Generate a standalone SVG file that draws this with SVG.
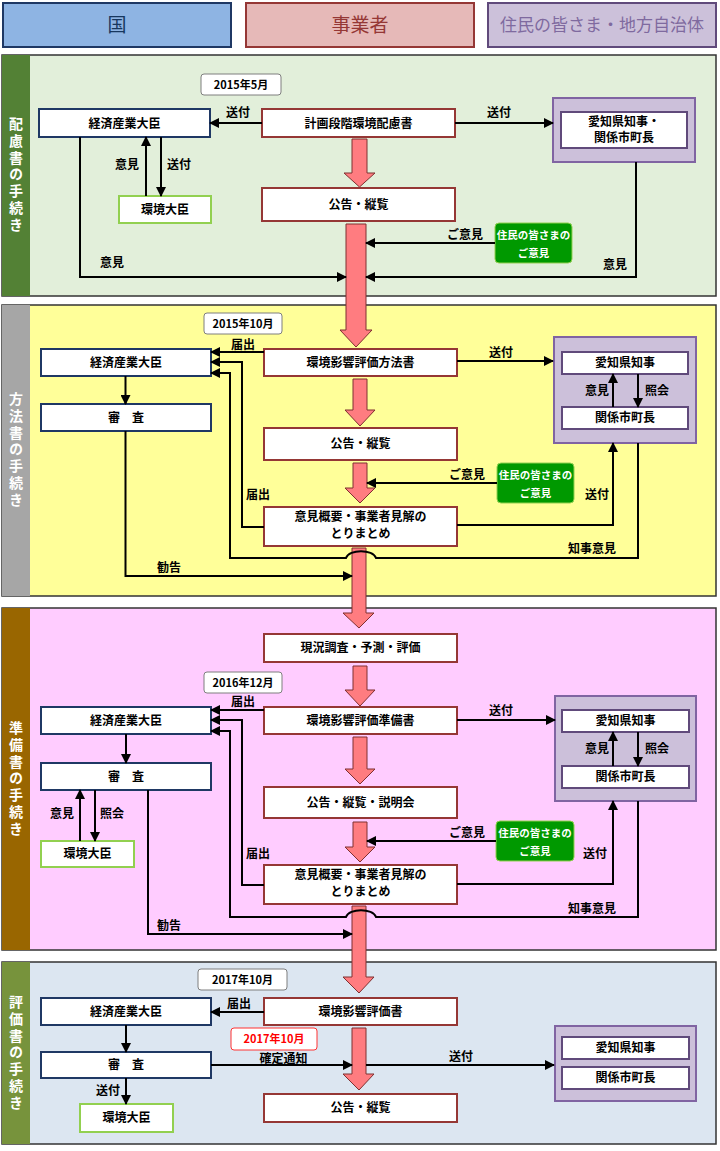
<svg xmlns="http://www.w3.org/2000/svg" width="720" height="1151" viewBox="0 0 720 1151">
<defs>
<style>
.t{font-family:"Noto Sans CJK JP","Noto Sans CJK SC",sans-serif;font-size:12px;font-weight:bold;text-anchor:middle;fill:#000}
.d{font-family:"Noto Sans CJK JP",sans-serif;font-size:11px;font-weight:bold;text-anchor:middle;fill:#000}
.g{font-family:"Noto Sans CJK JP",sans-serif;font-size:10.5px;font-weight:bold;text-anchor:middle;fill:#fff}
.v{font-family:"Noto Sans CJK JP",sans-serif;font-size:14px;font-weight:bold;fill:#fff;writing-mode:vertical-rl;letter-spacing:2.7px}
.h{font-family:"Noto Sans CJK JP",sans-serif;font-size:19px;text-anchor:middle}
.sec{stroke:#333;stroke-width:1.5}
.kuni{fill:#fff;stroke:#1f3864;stroke-width:2}
.jig{fill:#fff;stroke:#953735;stroke-width:2}
.env{fill:#fff;stroke:#92d050;stroke-width:2}
.po{fill:#ccc0da;stroke:#8064a2;stroke-width:2}
.pi{fill:#fff;stroke:#604a7b;stroke-width:2}
.date{fill:#fff;stroke:#7f7f7f;stroke-width:1}
.grn{fill:#009900;stroke:#92d050;stroke-width:1}
.big{fill:#ff7c80;stroke:#7f3030;stroke-width:1}
.ar{fill:none;stroke:#000;stroke-width:2;marker-end:url(#ah)}
</style>
<marker id="ah" markerUnits="userSpaceOnUse" markerWidth="10" markerHeight="10" refX="9" refY="5" orient="auto">
<path d="M0,0 L10,5 L0,10 z" fill="#000"/>
</marker>
</defs>

<!-- header -->
<g id="header-kuni"><rect x="3" y="3" width="228" height="44" fill="#8eb4e3" stroke="#1f3864" stroke-width="2"/><text class="h" x="117" y="32" fill="#17375e">国</text></g>
<g id="header-jigyosha"><rect x="246" y="3" width="228" height="44" fill="#e6b9b8" stroke="#953735" stroke-width="2"/><text class="h" x="360" y="32" fill="#953735">事業者</text></g>
<g id="header-jumin"><rect x="488" y="3" width="228" height="44" fill="#ccc1da" stroke="#604a7b" stroke-width="2"/><text class="h" x="602" y="31" fill="#7f6a9f" style="font-size:17px">住民の皆さま・地方自治体</text></g>

<!-- sections -->
<g id="sec1"><rect class="sec" x="2" y="55" width="714" height="241" fill="#e2efda"/><rect x="2" y="55" width="28" height="241" fill="#538135"/>
<text class="v" x="16" y="117">配慮書の手続き</text></g>
<g id="sec2"><rect class="sec" x="2" y="305" width="714" height="291" fill="#ffff99"/><rect x="2" y="305" width="28" height="291" fill="#a6a6a6"/>
<text class="v" x="16" y="392">方法書の手続き</text></g>
<g id="sec3"><rect class="sec" x="2" y="608" width="714" height="342" fill="#ffccff"/><rect x="2" y="608" width="28" height="342" fill="#996600"/>
<text class="v" x="16" y="721">準備書の手続き</text></g>
<g id="sec4"><rect class="sec" x="2" y="962" width="714" height="182" fill="#dce6f1"/><rect x="2" y="962" width="28" height="182" fill="#77933c"/>
<text class="v" x="16" y="995">評価書の手続き</text></g>

<!-- section 1 nodes -->
<g id="date1"><rect class="date" x="201" y="74" width="80" height="21" rx="3"/><text class="d" x="241" y="89">2015年5月</text></g>
<g id="meti1"><rect class="kuni" x="39" y="109" width="171" height="28"/><text class="t" x="124.5" y="127.5">経済産業大臣</text></g>
<g id="hairyo"><rect class="jig" x="262" y="109" width="193" height="28"/><text class="t" x="358.5" y="127.5">計画段階環境配慮書</text></g>
<g id="pref1"><rect class="po" x="553" y="98" width="142" height="64"/><rect class="pi" x="561" y="112" width="126" height="36"/><text class="t" x="624" y="126">愛知県知事・</text><text class="t" x="624" y="142">関係市町長</text></g>
<g id="moe1"><rect class="env" x="119" y="196" width="92" height="27"/><text class="t" x="165" y="214">環境大臣</text></g>
<g id="koukoku1"><rect class="jig" x="262" y="188" width="193" height="33"/><text class="t" x="358.5" y="209">公告・縦覧</text></g>
<g id="jumin1"><rect class="grn" x="495" y="223" width="77" height="40" rx="4"/><text class="g" x="533.5" y="239">住民の皆さまの</text><text class="g" x="533.5" y="257">ご意見</text></g>

<!-- section 2 nodes -->
<g id="date2"><rect class="date" x="204" y="313" width="78" height="21" rx="3"/><text class="d" x="243" y="328">2015年10月</text></g>
<g id="meti2"><rect class="kuni" x="41" y="349" width="170" height="27"/><text class="t" x="126" y="367">経済産業大臣</text></g>
<g id="houhou"><rect class="jig" x="264" y="349" width="193" height="27"/><text class="t" x="360.5" y="367">環境影響評価方法書</text></g>
<g id="pref2"><rect class="po" x="554" y="337" width="142" height="106"/><rect class="pi" x="562" y="352" width="126" height="22"/><text class="t" x="625" y="367">愛知県知事</text><rect class="pi" x="562" y="407" width="126" height="22"/><text class="t" x="625" y="422">関係市町長</text></g>
<g id="shinsa2"><rect class="kuni" x="41" y="404" width="170" height="27"/><text class="t" x="126" y="422">審　査</text></g>
<g id="koukoku2"><rect class="jig" x="264" y="428" width="193" height="32"/><text class="t" x="360.5" y="448">公告・縦覧</text></g>
<g id="jumin2"><rect class="grn" x="497" y="463" width="77" height="40" rx="4"/><text class="g" x="535.5" y="479">住民の皆さまの</text><text class="g" x="535.5" y="497">ご意見</text></g>
<g id="matome2"><rect class="jig" x="264" y="507" width="193" height="39"/><text class="t" x="360.5" y="521">意見概要・事業者見解の</text><text class="t" x="360.5" y="538">とりまとめ</text></g>

<!-- section 3 nodes -->
<g id="genkyo"><rect class="jig" x="264" y="634" width="193" height="28"/><text class="t" x="360.5" y="652">現況調査・予測・評価</text></g>
<g id="date3"><rect class="date" x="204" y="672" width="78" height="21" rx="3"/><text class="d" x="243" y="687">2016年12月</text></g>
<g id="meti3"><rect class="kuni" x="41" y="707" width="170" height="27"/><text class="t" x="126" y="725">経済産業大臣</text></g>
<g id="junbi"><rect class="jig" x="264" y="707" width="193" height="27"/><text class="t" x="360.5" y="725">環境影響評価準備書</text></g>
<g id="pref3"><rect class="po" x="555" y="696" width="141" height="105"/><rect class="pi" x="562" y="710" width="127" height="22"/><text class="t" x="625.5" y="725">愛知県知事</text><rect class="pi" x="562" y="766" width="127" height="22"/><text class="t" x="625.5" y="781">関係市町長</text></g>
<g id="shinsa3"><rect class="kuni" x="41" y="763" width="170" height="27"/><text class="t" x="126" y="781">審　査</text></g>
<g id="moe3"><rect class="env" x="41" y="841" width="93" height="26"/><text class="t" x="87.5" y="858">環境大臣</text></g>
<g id="koukoku3"><rect class="jig" x="264" y="787" width="193" height="31"/><text class="t" x="360.5" y="807">公告・縦覧・説明会</text></g>
<g id="jumin3"><rect class="grn" x="496" y="821" width="78" height="40" rx="4"/><text class="g" x="535" y="837">住民の皆さまの</text><text class="g" x="535" y="855">ご意見</text></g>
<g id="matome3"><rect class="jig" x="264" y="865" width="193" height="39"/><text class="t" x="360.5" y="879">意見概要・事業者見解の</text><text class="t" x="360.5" y="896">とりまとめ</text></g>

<!-- section 4 nodes -->
<g id="date4"><rect class="date" x="198" y="969" width="89" height="21" rx="3"/><text class="d" x="242.5" y="984">2017年10月</text></g>
<g id="meti4"><rect class="kuni" x="41" y="998" width="170" height="27"/><text class="t" x="126" y="1016">経済産業大臣</text></g>
<g id="hyouka"><rect class="jig" x="264" y="998" width="193" height="27"/><text class="t" x="360.5" y="1016">環境影響評価書</text></g>
<g id="date5"><rect x="231" y="1028" width="86" height="22" rx="3" fill="#fff" stroke="#ff3333" stroke-width="1"/><text class="d" x="274" y="1043" style="fill:#ff0000">2017年10月</text></g>
<g id="shinsa4"><rect class="kuni" x="41" y="1052" width="170" height="26"/><text class="t" x="126" y="1069">審　査</text></g>
<g id="koukoku4"><rect class="jig" x="264" y="1094" width="193" height="28"/><text class="t" x="360.5" y="1112">公告・縦覧</text></g>
<g id="pref4"><rect class="po" x="555" y="1026" width="141" height="75"/><rect class="pi" x="562" y="1037" width="127" height="22"/><text class="t" x="625.5" y="1052">愛知県知事</text><rect class="pi" x="562" y="1067" width="127" height="22"/><text class="t" x="625.5" y="1082">関係市町長</text></g>
<g id="moe4"><rect class="env" x="80" y="1104" width="93" height="28"/><text class="t" x="126.5" y="1122">環境大臣</text></g>

<!-- connectors -->
<g id="connectors">
<polygon class="big" points="352,139 367,139 367,173 375,173 359.5,187 344,173 352,173"/>
<polygon class="big" points="346,224 366,224 366,330 372,330 356,347 340,330 346,330"/>
<polygon class="big" points="353,379 367,379 367,410 375,410 360,426 345,410 353,410"/>
<polygon class="big" points="353,463 367,463 367,488 375,488 360,503 345,488 353,488"/>
<polygon class="big" points="352,548 366,548 366,613 374,613 359,628 343,613 352,613"/>
<polygon class="big" points="353,666 367,666 367,690 375,690 360,706 345,690 353,690"/>
<polygon class="big" points="353,737 367,737 367,769 375,769 360,784 345,769 353,769"/>
<polygon class="big" points="353,822 367,822 367,847 375,847 360,862 345,847 353,847"/>
<polygon class="big" points="352,906 366,906 366,977 374,977 359,993 343,977 352,977"/>
<polygon class="big" points="352,1028 366,1028 366,1074 374,1074 359,1090 343,1074 352,1074"/>

<path class="ar" d="M262,123 H210"/><text class="t" x="238" y="117">送付</text>
<path class="ar" d="M455,123 H553"/><text class="t" x="499" y="117">送付</text>
<path class="ar" d="M146,196 V137"/><text class="t" x="127" y="169">意見</text>
<path class="ar" d="M161,137 V196"/><text class="t" x="179" y="169">送付</text>
<path class="ar" d="M80,137 V277 H346"/><text class="t" x="112" y="267">意見</text>
<path class="ar" d="M636,162 V277 H366"/><text class="t" x="615" y="269">意見</text>
<path class="ar" d="M495,243 H366"/><text class="t" x="465" y="239">ご意見</text>

<path class="ar" d="M264,352 H211"/><text class="t" x="243" y="349">届出</text>
<path class="ar" d="M457,361 H553"/><text class="t" x="501" y="357">送付</text>
<path class="ar" d="M613,407 V374"/><text class="t" x="597" y="395">意見</text>
<path class="ar" d="M638,374 V407"/><text class="t" x="657" y="395">照会</text>
<path class="ar" d="M125.5,376 V404"/>
<path class="ar" d="M125.5,431 V576 H352"/><text class="t" x="169" y="572">勧告</text>
<path class="ar" d="M497,483 H367"/><text class="t" x="467" y="479">ご意見</text>
<path class="ar" d="M264,527 H242 V362 H211"/><text class="t" x="258" y="499">届出</text>
<path class="ar" d="M638,443 V558 H376 C373,549 349,549 346,558 H230 V373 H211"/><text class="t" x="592" y="553">知事意見</text>
<path class="ar" d="M457,525 H613 V443"/><text class="t" x="597" y="499">送付</text>

<path class="ar" d="M264,710 H211"/><text class="t" x="243" y="706">届出</text>
<path class="ar" d="M457,720 H555"/><text class="t" x="501" y="715">送付</text>
<path class="ar" d="M613,766 V732"/><text class="t" x="597" y="753">意見</text>
<path class="ar" d="M638,732 V766"/><text class="t" x="657" y="753">照会</text>
<path class="ar" d="M126,734 V763"/>
<path class="ar" d="M80,841 V790"/><text class="t" x="62" y="818">意見</text>
<path class="ar" d="M95,790 V841"/><text class="t" x="112" y="818">照会</text>
<path class="ar" d="M148,790 V934 H352"/><text class="t" x="169" y="930">勧告</text>
<path class="ar" d="M496,841 H367"/><text class="t" x="467" y="837">ご意見</text>
<path class="ar" d="M264,885 H242 V720 H211"/><text class="t" x="258" y="858">届出</text>
<path class="ar" d="M638,801 V917 H376 C373,908 349,908 346,917 H230 V731 H211"/><text class="t" x="592" y="913">知事意見</text>
<path class="ar" d="M457,884 H613 V801"/><text class="t" x="595" y="858">送付</text>

<path class="ar" d="M264,1012 H211"/><text class="t" x="239" y="1008">届出</text>
<path class="ar" d="M126,1025 V1052"/>
<path class="ar" d="M211,1065 H352"/><text class="t" x="283.5" y="1063">確定通知</text>
<path class="ar" d="M366,1065 H554"/><text class="t" x="461" y="1061">送付</text>
<path class="ar" d="M126,1078 V1104"/><text class="t" x="108" y="1095">送付</text>
</g>
</svg>
